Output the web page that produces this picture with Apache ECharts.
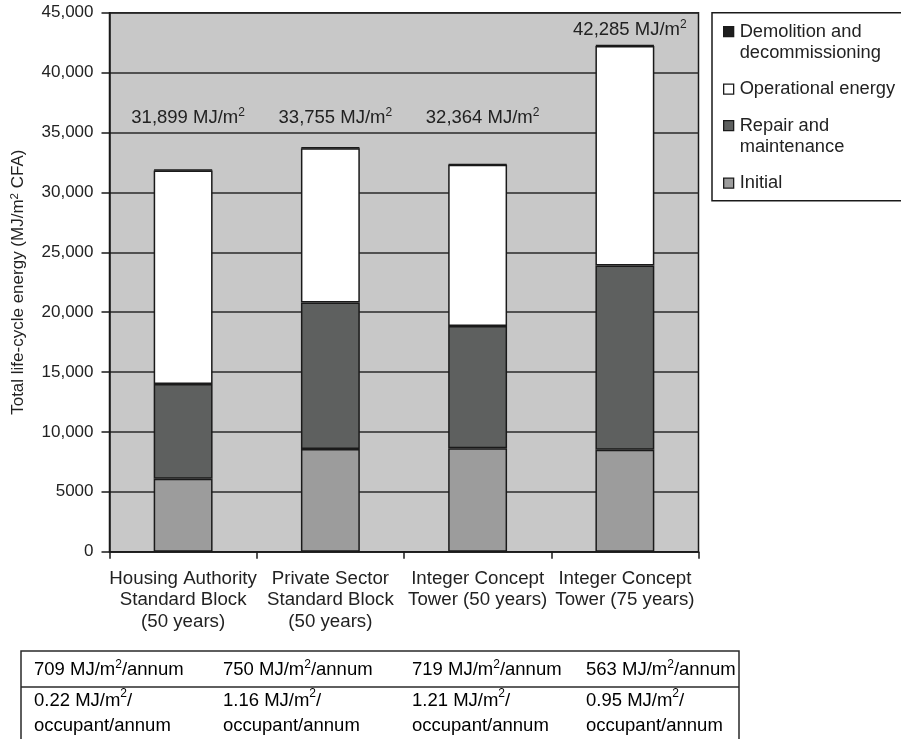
<!DOCTYPE html>
<html>
<head>
<meta charset="utf-8">
<script src="https://cdn.jsdelivr.net/npm/echarts@6/dist/echarts.min.js"></script>
<style>
  html, body { margin: 0; padding: 0; background: #ffffff; }
  #chart { width: 901px; height: 739px; }
</style>
</head>
<body>
<div id="chart"></div>
<script>
// Life-cycle energy of four building options, stacked by phase (MJ/m² CFA)
const categories = [
  'Housing Authority\nStandard Block\n(50 years)',
  'Private Sector\nStandard Block\n(50 years)',
  'Integer Concept\nTower (50 years)',
  'Integer Concept\nTower (75 years)'
];
const initialEnergy = [6100, 8580, 8630, 8520];
const repairMaintenance = [7900, 12220, 10220, 15380];
const operationalEnergy = [17830, 12890, 13450, 18320];
const demolition = [69, 65, 64, 65];
const totals = [31899, 33755, 32364, 42285];

const yTickLabels = ['0', '5000', '10,000', '15,000', '20,000', '25,000', '30,000', '35,000', '40,000', '45,000'];

// Values for the summary table under the chart
const perAreaAnnual = ['709', '750', '719', '563'];
const perOccupantAnnual = ['0.22', '1.16', '1.21', '0.95'];

const FONT = '"Liberation Sans", Arial, Helvetica, sans-serif';
const INK = '#222222';
const EDGE = '#1a1a1a';

// legend swatches: square at the top of a tall box for two-line entries,
// plain square (centred) for one-line entries
const ICON_TOP = 'path://M0,0H10V10H0ZM0,31';
const ICON_MID = 'path://M0,0H10V10H0Z';

function withCommas(n) {
  return String(n).replace(/\B(?=(\d{3})+(?!\d))/g, ',');
}

function supRich(size, lineHeight, supSize) {
  return {
    v: { fontFamily: FONT, fontSize: size, lineHeight: lineHeight, color: INK },
    s: { fontFamily: FONT, fontSize: supSize, lineHeight: lineHeight - 8, color: INK, verticalAlign: 'top' }
  };
}

function stackBar(name, values, color) {
  return {
    name: name,
    type: 'bar',
    stack: 'life',
    data: values,
    barWidth: '40%',
    itemStyle: { color: color, borderColor: EDGE, borderWidth: 1.5 },
    emphasis: { disabled: true },
    animation: false
  };
}

const series = [
  stackBar('Initial', initialEnergy, '#9c9c9c'),
  stackBar('Repair and\nmaintenance', repairMaintenance, '#5e605f'),
  stackBar('Operational energy', operationalEnergy, '#ffffff'),
  Object.assign(stackBar('Demolition and\ndecommissioning', demolition, '#1e1e1e'), {
    label: {
      show: true,
      position: 'top',
      distance: 4,
      formatter: function (p) { return '{v|' + withCommas(totals[p.dataIndex]) + ' MJ/m}{s|2}'; },
      rich: supRich(18.5, 22, 12)
    },
    labelLayout: function (p) {
      // the three shorter columns share one label row
      if (p.dataIndex < 3) return { y: 118, align: 'center', verticalAlign: 'middle', dx: 5 };
      return { dx: 5 };
    }
  })
];

// summary table drawn below the plot
const tableLeft = 21, tableRight = 739, tableTop = 651, rowSplit = 687;
const tableColX = [34, 223, 412, 586];
const tableGraphics = [
  { type: 'rect', silent: true, shape: { x: tableLeft, y: tableTop, width: tableRight - tableLeft, height: 120 },
    style: { fill: 'none', stroke: '#2a2a2a', lineWidth: 1.5 } },
  { type: 'line', silent: true, shape: { x1: tableLeft, y1: rowSplit, x2: tableRight, y2: rowSplit },
    style: { stroke: '#2a2a2a', lineWidth: 1.5 } }
];
perAreaAnnual.forEach(function (v, i) {
  tableGraphics.push({
    type: 'text', silent: true, x: tableColX[i], y: 670,
    style: { text: '{v|' + v + ' MJ/m}{s|2}{v|/annum}', rich: supRich(18.5, 22, 12),
             verticalAlign: 'middle', align: 'left' }
  });
});
perOccupantAnnual.forEach(function (v, i) {
  tableGraphics.push({
    type: 'text', silent: true, x: tableColX[i], y: 713,
    style: { text: '{v|' + v + ' MJ/m}{s|2}{v|/}\n{v|occupant/annum}', rich: supRich(18.5, 25, 12),
             verticalAlign: 'middle', align: 'left' }
  });
});

const chart = echarts.init(document.getElementById('chart'), null, { renderer: 'canvas' });
chart.setOption({
  animation: false,
  backgroundColor: '#ffffff',
  textStyle: { fontFamily: FONT, color: INK },
  grid: {
    left: 109.5, right: 202.5, top: 12.7, bottom: 187.3,
    show: true, backgroundColor: '#c8c8c8', borderColor: EDGE, borderWidth: 1.5,
    containLabel: false, outerBoundsMode: 'none'
  },
  legend: {
    orient: 'vertical',
    left: 712, top: 12.7,
    padding: [8.5, 16, 7, 11],
    itemGap: 15.5,
    itemWidth: 10, itemHeight: 31,
    symbolKeepAspect: true,
    selectedMode: false,
    borderColor: EDGE, borderWidth: 1.5, backgroundColor: '#ffffff',
    textStyle: { fontFamily: FONT, fontSize: 18.3, lineHeight: 21, color: INK, padding: [0, 0, 0, 1] },
    itemStyle: { borderColor: EDGE, borderWidth: 1.3 },
    data: [
      { name: 'Demolition and\ndecommissioning', icon: ICON_TOP },
      { name: 'Operational energy', icon: ICON_MID },
      { name: 'Repair and\nmaintenance', icon: ICON_TOP },
      { name: 'Initial', icon: ICON_MID }
    ]
  },
  xAxis: {
    type: 'category',
    data: categories,
    boundaryGap: true,
    axisLine: { show: true, lineStyle: { color: EDGE, width: 1.5 } },
    axisTick: { show: true, inside: false, length: 7, lineStyle: { color: EDGE, width: 1.5 } },
    axisLabel: { interval: 0, margin: 16, fontFamily: FONT, fontSize: 18.7, lineHeight: 21.5, color: INK },
    splitLine: { show: false }
  },
  yAxis: {
    type: 'value',
    min: 0, max: 45000, interval: 5000,
    axisLine: { show: true, lineStyle: { color: EDGE, width: 1.5 } },
    axisTick: { show: true, inside: false, length: 8, lineStyle: { color: EDGE, width: 1.5 } },
    axisLabel: {
      margin: 16, fontFamily: FONT, fontSize: 17, color: INK,
      formatter: function (v) { return yTickLabels[Math.round(v / 5000)]; }
    },
    splitLine: { show: true, lineStyle: { color: '#2a2a2a', width: 1.5 } },
    name: '{v|Total life-cycle energy (MJ/m}{s|2}{v| CFA)}',
    nameLocation: 'middle',
    nameGap: 81,
    nameRotate: 90,
    nameMoveOverlap: false,
    nameTextStyle: { rich: supRich(17, 20, 11.5) }
  },
  series: series,
  graphic: tableGraphics
});
</script>
</body>
</html>
